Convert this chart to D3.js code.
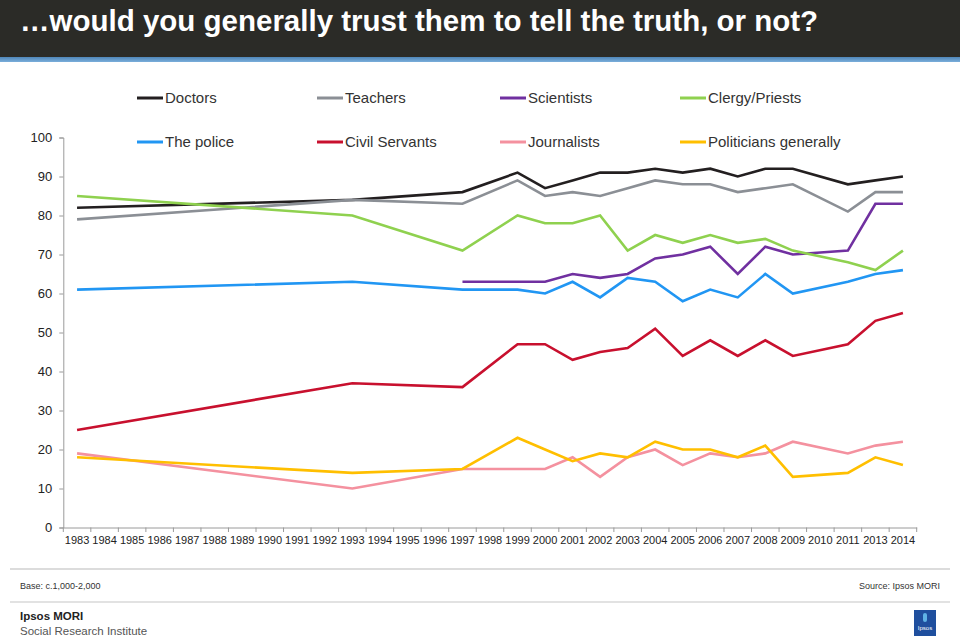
<!DOCTYPE html>
<html>
<head>
<meta charset="utf-8">
<script src="https://cdn.jsdelivr.net/npm/d3@7"></script>
<style>
  html, body { margin: 0; padding: 0; background: #fff; }
  svg { display: block; font-family: "Liberation Sans", Arial, Helvetica, sans-serif; }
</style>
</head>
<body>
<svg id="chart" width="960" height="640"></svg>
<script>
const years = ["1983","1984","1985","1986","1987","1988","1989","1990","1991","1992","1993","1994","1995","1996","1997","1998","1999","2000","2001","2002","2003","2004","2005","2006","2007","2008","2009","2010","2011","2013","2014"];
const surveyYears = ["1983","1993","1997","1999","2000","2001","2002","2003","2004","2005","2006","2007","2008","2009","2011","2013","2014"];

const doctors       = [82, 84, 86, 91, 87, 89, 91, 91, 92, 91, 92, 90, 92, 92, 88, 89, 90];
const teachers      = [79, 84, 83, 89, 85, 86, 85, 87, 89, 88, 88, 86, 87, 88, 81, 86, 86];
const scientists    = [null, null, 63, 63, 63, 65, 64, 65, 69, 70, 72, 65, 72, 70, 71, 83, 83];
const clergy        = [85, 80, 71, 80, 78, 78, 80, 71, 75, 73, 75, 73, 74, 71, 68, 66, 71];
const police        = [61, 63, 61, 61, 60, 63, 59, 64, 63, 58, 61, 59, 65, 60, 63, 65, 66];
const civilServants = [25, 37, 36, 47, 47, 43, 45, 46, 51, 44, 48, 44, 48, 44, 47, 53, 55];
const journalists   = [19, 10, 15, 15, 15, 18, 13, 18, 20, 16, 19, 18, 19, 22, 19, 21, 22];
const politicians   = [18, 14, 15, 23, 20, 17, 19, 18, 22, 20, 20, 18, 21, 13, 14, 18, 16];

const seriesNames  = ["Doctors","Teachers","Scientists","Clergy/Priests","The police","Civil Servants","Journalists","Politicians generally"];
const seriesValues = [doctors, teachers, scientists, clergy, police, civilServants, journalists, politicians];
const seriesColors = ["#231f20","#8b8f95","#7030a0","#8fd14f","#2196f3","#c8102e","#f4919f","#ffbf00"];
const yTicks = [0,10,20,30,40,50,60,70,80,90,100];

const svg = d3.select("#chart");

// Title bar
svg.append("rect").attr("x",0).attr("y",0).attr("width",960).attr("height",57).attr("fill","#2b2b27");
const grad = svg.append("defs").append("linearGradient").attr("id","bar").attr("x1",0).attr("x2",0).attr("y1",0).attr("y2",1);
grad.append("stop").attr("offset","0%").attr("stop-color","#4f86b8");
grad.append("stop").attr("offset","100%").attr("stop-color","#7aaedb");
svg.append("rect").attr("x",0).attr("y",57).attr("width",960).attr("height",5).attr("fill","url(#bar)");
svg.append("text").attr("x",20).attr("y",23).attr("fill","#fff")
  .attr("font-size",29.5).attr("font-weight","bold").attr("dominant-baseline","middle")
  .text("\u2026would you generally trust them to tell the truth, or not?");

// Scales
const x = d3.scaleBand().domain(years).range([63.3, 916.7]).padding(0);
const y = d3.scaleLinear().domain([0,100]).range([527.5, 137.5]);

// Axes
const yAxis = svg.append("g").attr("transform","translate(63.3,0)")
  .call(d3.axisLeft(y).tickValues(yTicks).tickSize(4).tickPadding(7));
yAxis.selectAll("path, line").attr("stroke","#9a9a9a");
yAxis.selectAll("text").attr("font-size",13).attr("fill","#222").attr("font-family","Liberation Sans, Arial, sans-serif");

const xAxis = svg.append("g").attr("transform","translate(0,527.5)")
  .call(d3.axisBottom(x).tickSize(0).tickPadding(9).tickSizeOuter(0));
xAxis.selectAll("path").attr("stroke","#9a9a9a");
xAxis.selectAll("text").attr("font-size",11).attr("fill","#222").attr("font-family","Liberation Sans, Arial, sans-serif");
// tick marks at band boundaries
const bounds = years.map(d => x(d)).concat([x(years[years.length-1]) + x.bandwidth()]);
svg.append("g").selectAll("line").data(bounds).join("line")
  .attr("x1", d => d).attr("x2", d => d).attr("y1", 527.5).attr("y2", 532)
  .attr("stroke","#9a9a9a");

// Lines
const line = d3.line()
  .defined(d => d.v != null)
  .x(d => x(d.year) + x.bandwidth()/2)
  .y(d => y(d.v));
seriesValues.forEach((vals, i) => {
  const pts = surveyYears.map((yr, j) => ({year: yr, v: vals[j]})).filter(d => d.v != null);
  svg.append("path").datum(pts).attr("d", line)
    .attr("fill","none").attr("stroke", seriesColors[i]).attr("stroke-width", 2.6)
    .attr("stroke-linejoin","miter");
});

// Legend
const legX = [137, 317, 500, 680];
const legY = [98, 142];
seriesNames.forEach((name, i) => {
  const lx = legX[i % 4], ly = legY[Math.floor(i / 4)];
  svg.append("line").attr("x1", lx).attr("x2", lx + 26).attr("y1", ly).attr("y2", ly)
    .attr("stroke", seriesColors[i]).attr("stroke-width", 3);
  svg.append("text").attr("x", lx + 28).attr("y", ly + 1).attr("dominant-baseline","middle")
    .attr("font-size", 15).attr("fill","#333").text(name);
});

// Footer
svg.append("line").attr("x1",10).attr("x2",950).attr("y1",569).attr("y2",569).attr("stroke","#d0d0d0").attr("stroke-width",1.5);
svg.append("text").attr("x",20).attr("y",587).attr("font-size",9).attr("fill","#333").attr("dominant-baseline","middle").text("Base: c.1,000-2,000");
svg.append("text").attr("x",940).attr("y",587).attr("font-size",9).attr("fill","#333").attr("text-anchor","end").attr("dominant-baseline","middle").text("Source: Ipsos MORI");
svg.append("line").attr("x1",10).attr("x2",950).attr("y1",602).attr("y2",602).attr("stroke","#d8d8d8").attr("stroke-width",1.5);
svg.append("text").attr("x",20).attr("y",617).attr("font-size",11.5).attr("font-weight","bold").attr("fill","#222").attr("dominant-baseline","middle").text("Ipsos MORI");
svg.append("text").attr("x",20).attr("y",632).attr("font-size",11.5).attr("fill","#555").attr("dominant-baseline","middle").text("Social Research Institute");

// Logo
svg.append("rect").attr("x",914).attr("y",610).attr("width",22).attr("height",26).attr("fill","#1f4f9e");
svg.append("rect").attr("x",923).attr("y",613).attr("width",4).attr("height",9).attr("rx",2).attr("fill","#5fb3e6");
svg.append("text").attr("x",925).attr("y",630).attr("font-size",6).attr("fill","#fff").attr("text-anchor","middle").text("Ipsos");
</script>
</body>
</html>
